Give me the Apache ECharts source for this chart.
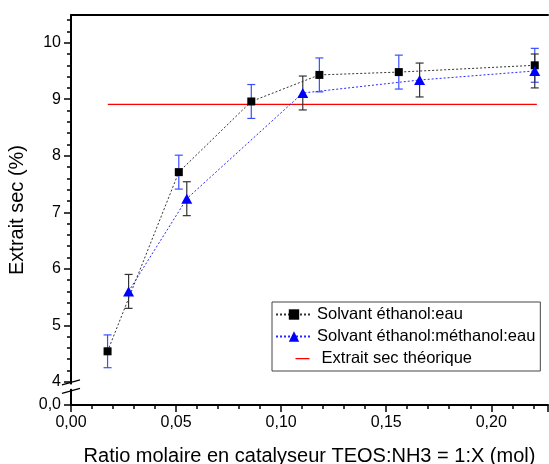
<!DOCTYPE html>
<html>
<head>
<meta charset="utf-8">
<script src="https://cdn.jsdelivr.net/npm/echarts@6/dist/echarts.min.js"></script>
<style>
html,body{margin:0;padding:0;background:#fff;}
#c{width:549px;height:464px;}
</style>
</head>
<body>
<div id="c"></div>
<script>
// ---- Data ----
const xEthanolEau = [0.0174, 0.0513, 0.0858, 0.1182, 0.1560, 0.2207];
const yEthanolEau = [4.54, 7.71, 8.96, 9.43, 9.48, 9.60];
const errEthanolEau = [0.29, 0.30, 0.30, 0.30, 0.30, 0.30];

const xEthMethEau = [0.0274, 0.0551, 0.1103, 0.1659, 0.2207];
const yEthMethEau = [5.60, 7.24, 9.11, 9.34, 9.50];
const errEthMethEau = [0.30, 0.30, 0.30, 0.30, 0.30];

const xTheorique = [0.0175, 0.2217];
const yTheorique = [8.91, 8.91];

const seriesNames = ['Solvant éthanol:eau', 'Solvant éthanol:méthanol:eau', 'Extrait sec théorique'];
const yTickValues = [4, 5, 6, 7, 8, 9, 10];
const yBreakLabel = '0,0';
const xTitle = 'Ratio molaire en catalyseur TEOS:NH3 = 1:X (mol)';
const yTitle = 'Extrait sec (%)';

// ---- Axis extents ----
const X_MIN = 0, X_MAX = 0.227;
const Y_MIN = 3.59, Y_MAX = 10.49;

const zip = (xs, ys) => xs.map((x, i) => [x, ys[i]]);
const zip3 = (xs, ys, es) => xs.map((x, i) => [x, ys[i], es[i]]);

const majorY = [Y_MIN].concat(yTickValues);
const minorY = [];
for (let v = 4.2; v < Y_MAX; v += 0.2) {
  if (Math.abs(v - Math.round(v)) > 0.05) minorY.push(+v.toFixed(1));
}

const FONT = "'Liberation Sans', Arial, sans-serif";

function errorBar(color) {
  return function (params, api) {
    const x = api.value(0), y = api.value(1), e = api.value(2);
    const top = api.coord([x, y + e]);
    const bot = api.coord([x, y - e]);
    const w = 4;
    const style = { stroke: color, lineWidth: 1.2 };
    return {
      type: 'group',
      children: [
        { type: 'line', shape: { x1: top[0], y1: top[1], x2: bot[0], y2: bot[1] }, style },
        { type: 'line', shape: { x1: top[0] - w, y1: top[1], x2: top[0] + w, y2: top[1] }, style },
        { type: 'line', shape: { x1: bot[0] - w, y1: bot[1], x2: bot[0] + w, y2: bot[1] }, style }
      ]
    };
  };
}

// legend icon for the theoretical line: a short thin line inside the icon box
const redLineIcon = 'path://M0,0L0.01,0L0.01,0.01L0,0.01Z M17,6L31,6L31,7.3L17,7.3Z M0,13L0.01,13L0.01,12.99L0,12.99Z';

const chart = echarts.init(document.getElementById('c'), null, { renderer: 'canvas' });

const option = {
  animation: false,
  backgroundColor: '#fff',
  textStyle: { fontFamily: FONT },
  grid: { left: 71, top: 15, right: 1, bottom: 59, containLabel: false, outerBoundsMode: 'none' },
  legend: {
    data: [
      { name: seriesNames[0] },
      { name: seriesNames[1] },
      { name: seriesNames[2], icon: redLineIcon }
    ],
    orient: 'vertical',
    left: 272,
    top: 302,
    itemWidth: 36,
    itemHeight: 13,
    itemGap: 5,
    padding: [4, 5, 4, 3],
    borderColor: '#444',
    borderWidth: 1,
    backgroundColor: '#fff',
    textStyle: { fontFamily: FONT, fontSize: 16.5, color: '#000', lineHeight: 15 },
    formatter: function (n) { return n === seriesNames[2] ? ' ' + n : n; }
  },
  xAxis: [{
    type: 'value',
    min: X_MIN, max: X_MAX, interval: 0.05,
    name: xTitle,
    nameLocation: 'middle',
    nameGap: 41,
    nameTextStyle: { fontFamily: FONT, fontSize: 20, color: '#000' },
    axisLine: { show: true, onZero: false, lineStyle: { color: '#000', width: 2 } },
    axisTick: { show: true, length: 7, lineStyle: { color: '#000', width: 1.5 } },
    minorTick: { show: true, splitNumber: 5, length: 4, lineStyle: { color: '#000', width: 1.5 } },
    splitLine: { show: false },
    axisLabel: {
      fontFamily: FONT, fontSize: 16, color: '#000', margin: 10,
      showMaxLabel: false,
      formatter: v => v.toFixed(2).replace('.', ',')
    }
  }, {
    type: 'value', position: 'top',
    min: X_MIN, max: X_MAX,
    axisLine: { show: true, lineStyle: { color: '#000', width: 2 } },
    axisTick: { show: false }, axisLabel: { show: false }, splitLine: { show: false }
  }],
  yAxis: [{
    type: 'value',
    min: Y_MIN, max: Y_MAX,
    name: yTitle,
    nameLocation: 'middle',
    nameGap: 38,
    nameTextStyle: { fontFamily: FONT, fontSize: 20, color: '#000' },
    axisLine: { show: true, onZero: false, lineStyle: { color: '#000', width: 2 } },
    axisTick: { show: true, length: 7, customValues: majorY, lineStyle: { color: '#000', width: 1.5 } },
    splitLine: { show: false },
    axisLabel: {
      fontFamily: FONT, fontSize: 16, color: '#000', margin: 10,
      customValues: majorY,
      formatter: v => (v < 3.9 ? yBreakLabel : String(Math.round(v)))
    }
  }, {
    type: 'value',
    position: 'left',
    min: Y_MIN, max: Y_MAX,
    axisLine: { show: false },
    axisTick: { show: true, length: 4, customValues: minorY, lineStyle: { color: '#000', width: 1.5 } },
    axisLabel: { show: false },
    splitLine: { show: false }
  }],
  series: [
    {
      name: seriesNames[2],
      type: 'line',
      data: zip(xTheorique, yTheorique),
      symbol: 'none',
      color: '#ff0000',
      lineStyle: { color: '#ff0000', width: 1.3 },
      z: 2
    },
    {
      type: 'custom',
      name: 'errEth',
      renderItem: errorBar('#3a4fff'),
      data: zip3(xEthanolEau, yEthanolEau, errEthanolEau),
      z: 3
    },
    {
      type: 'custom',
      name: 'errMeth',
      renderItem: errorBar('#333333'),
      data: zip3(xEthMethEau, yEthMethEau, errEthMethEau),
      z: 3
    },
    {
      name: seriesNames[0],
      type: 'line',
      data: zip(xEthanolEau, yEthanolEau),
      symbol: 'rect',
      symbolSize: 8,
      color: '#000',
      itemStyle: { color: '#000' },
      lineStyle: { color: '#333', width: 1, type: [2, 2] },
      z: 5
    },
    {
      name: seriesNames[1],
      type: 'line',
      data: zip(xEthMethEau, yEthMethEau),
      symbol: 'triangle',
      symbolSize: [11, 10],
      color: '#0000ff',
      itemStyle: { color: '#0000ff' },
      lineStyle: { color: '#2a2aff', width: 1, type: [2, 2] },
      z: 5
    }
  ]
};

chart.setOption(option);

// axis break marks ("//") on the y axis, between 0,0 and 4
function drawBreak() {
  const pA = chart.convertToPixel({ gridIndex: 0 }, [X_MIN, 3.99]);
  const pB = chart.convertToPixel({ gridIndex: 0 }, [X_MIN, 3.84]);
  const x0 = pA[0];
  const lineStyle = { stroke: '#000', lineWidth: 1.5 };
  chart.setOption({
    graphic: [
      { type: 'rect', z: 100, shape: { x: x0 - 2, y: pA[1] + 2, width: 4, height: pB[1] - pA[1] - 4 }, style: { fill: '#fff' } },
      { type: 'line', z: 101, shape: { x1: x0 - 9, y1: pA[1] + 2.5, x2: x0 + 9, y2: pA[1] - 2.5 }, style: lineStyle },
      { type: 'line', z: 101, shape: { x1: x0 - 9, y1: pB[1] + 2.5, x2: x0 + 9, y2: pB[1] - 2.5 }, style: lineStyle }
    ]
  });
}
drawBreak();
</script>
</body>
</html>
